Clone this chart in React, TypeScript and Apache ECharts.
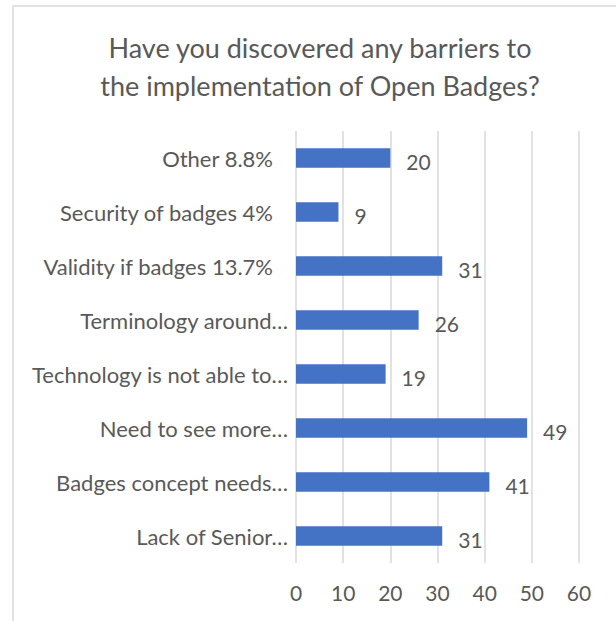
import React, { useEffect, useRef } from "react";
import * as echarts from "echarts";

const categories = [
  "Lack of Senior…",
  "Badges concept needs…",
  "Need to see more…",
  "Technology is not able to…",
  "Terminology around…",
  "Validity if badges 13.7%",
  "Security of badges 4%",
  "Other 8.8%",
];
const values = [31, 41, 49, 19, 26, 31, 9, 20];
const xTicks = [0, 10, 20, 30, 40, 50, 60];
const titleLines = [
  "Have you discovered any barriers to",
  "the implementation of Open Badges?",
];

const FONT = "Lato, 'Open Sans', sans-serif";
const TEXT = "#595959";
const GRID = "#D9D9D9";

export default function App() {
  const ref = useRef<HTMLDivElement>(null);
  useEffect(() => {
    document.body.style.margin = "0";
    const chart = echarts.init(ref.current!, null, { renderer: "svg" });
    chart.setOption({
      animation: false,
      backgroundColor: "#ffffff",
      textStyle: { fontFamily: FONT },
      title: {
        text: titleLines.join("\n"),
        left: 320,
        top: 28,
        padding: 0,
        textAlign: "center",
        textStyle: {
          fontFamily: FONT,
          fontSize: 27,
          fontWeight: "normal",
          color: TEXT,
          lineHeight: 38,
        },
      },
      graphic: [
        {
          type: "rect",
          shape: { x: 13, y: 6, width: 800, height: 800 },
          style: { fill: "none", stroke: GRID, lineWidth: 1.5 },
          silent: true,
        },
      ],
      grid: { left: 296, right: 37, top: 131, bottom: 58, containLabel: false },
      xAxis: {
        type: "value",
        min: 0,
        max: 60,
        interval: 10,
        axisLine: { show: false },
        axisTick: { show: false },
        splitLine: { show: true, lineStyle: { color: GRID, width: 1.5 } },
        axisLabel: {
          color: TEXT,
          fontFamily: FONT,
          fontSize: 21,
          margin: 19,
          formatter: (v: number) => (xTicks.includes(v) ? String(v) : ""),
        },
      },
      yAxis: {
        type: "category",
        data: categories,
        axisLine: { show: false },
        axisTick: { show: false },
        axisLabel: {
          color: TEXT,
          fontFamily: FONT,
          fontSize: 22,
          margin: 8,
          formatter: (v: string) => (v.endsWith("…") ? `{e|${v}}` : `{n|${v}}`),
          rich: {
            e: { color: TEXT, fontFamily: FONT, fontSize: 22 },
            n: { color: TEXT, fontFamily: FONT, fontSize: 22, padding: [0, 15, 0, 0] },
          },
        },
      },
      series: [
        {
          type: "bar",
          data: values,
          barCategoryGap: "64%",
          itemStyle: { color: "#4472C4" },
          label: {
            show: true,
            position: "right",
            distance: 16,
            color: TEXT,
            fontFamily: FONT,
            fontSize: 21,
            offset: [0, 3],
          },
        },
      ],
    });
    return () => chart.dispose();
  }, []);
  return <div ref={ref} style={{ width: 616, height: 621 }} />;
}
